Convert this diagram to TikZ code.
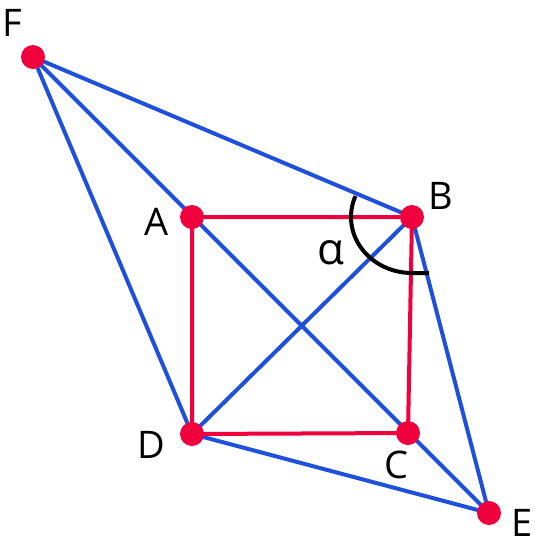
\documentclass[tikz,border=0pt]{standalone}
\usepackage{fontspec}
\setmainfont{Open Sans}
\definecolor{dotred}{RGB}{240,0,60}
\definecolor{lineblue}{RGB}{30,80,220}
\begin{document}
\begin{tikzpicture}[x=1pt,y=-1pt,
  dot/.style={circle,fill=dotred,inner sep=0pt,minimum size=24pt},
  blueline/.style={draw=lineblue,line width=4pt},
  redline/.style={draw=dotred,line width=4pt},
  lbl/.style={font=\fontsize{38}{40}\selectfont,inner sep=0pt}]
\useasboundingbox (0,0) rectangle (535,550);
\coordinate (F) at (33,57);
\coordinate (A) at (192,217);
\coordinate (B) at (412,217);
\coordinate (C) at (408,433);
\coordinate (D) at (192,434);
\coordinate (E) at (489,513);
\draw[blueline] (F) -- (E);
\draw[blueline] (F) -- (B);
\draw[blueline] (F) -- (D);
\draw[blueline] (B) -- (D);
\draw[blueline] (B) -- (E);
\draw[blueline] (D) -- (E);
\draw[redline] (A) -- (B) -- (C) -- (D) -- cycle;
\draw[line width=4pt,black] ([shift={(202:61 and 56)}]B) arc[start angle=202,end angle=90,x radius=61,y radius=56] -- ++(17,0);
\foreach \p in {F,A,B,C,D,E} \node[dot] (n\p) at (\p) {};
\node[lbl] (lF) at (12,23) {F};
\node[lbl] (lA) at (157,222) {A};
\node[lbl] (lB) at (441,196) {B};
\node[lbl] (lC) at (396,465) {C};
\node[lbl] (lD) at (151,445) {D};
\node[lbl] (lE) at (522,523) {E};
\node[lbl,font=\fontsize{44}{46}\selectfont] (lal) at (331,253) {α};
\end{tikzpicture}
\end{document}
